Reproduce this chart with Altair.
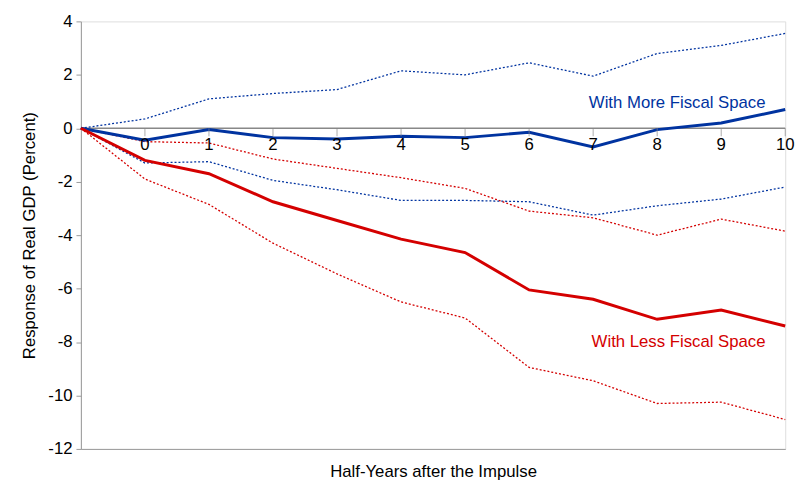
import altair as alt
import pandas as pd

periods = [-1, 0, 1, 2, 3, 4, 5, 6, 7, 8, 9, 10]
more_mid = [0, -0.45, -0.05, -0.35, -0.4, -0.3, -0.35, -0.15, -0.7, -0.05, 0.2, 0.7]
more_hi = [0, 0.35, 1.1, 1.3, 1.45, 2.15, 2.0, 2.45, 1.95, 2.8, 3.1, 3.55]
more_lo = [0, -1.3, -1.25, -1.95, -2.3, -2.7, -2.7, -2.75, -3.25, -2.9, -2.65, -2.2]
less_mid = [0, -1.2, -1.7, -2.75, -3.45, -4.15, -4.65, -6.05, -6.4, -7.15, -6.8, -7.4]
less_hi = [0, -0.5, -0.55, -1.15, -1.5, -1.85, -2.25, -3.1, -3.35, -4.0, -3.4, -3.85]
less_lo = [0, -1.9, -2.85, -4.3, -5.45, -6.5, -7.1, -8.95, -9.45, -10.3, -10.25, -10.9]

rows = []
for name, vals, kind, grp in [
    ("more_mid", more_mid, "solid", "more"), ("more_hi", more_hi, "band", "more"),
    ("more_lo", more_lo, "band", "more"), ("less_mid", less_mid, "solid", "less"),
    ("less_hi", less_hi, "band", "less"), ("less_lo", less_lo, "band", "less")]:
    for p, v in zip(periods, vals):
        rows.append({"t": p, "v": v, "series": name, "kind": kind, "grp": grp})
df = pd.DataFrame(rows)

FONT = "Liberation Sans"
x = alt.X("t:Q", scale=alt.Scale(domain=[-1, 10], nice=False),
          axis=alt.Axis(labels=False, ticks=False, grid=False, domainColor="#999",
                        title="Half-Years after the Impulse", titleFont=FONT,
                        titleFontSize=17, titleFontWeight="normal", titlePadding=15, titleColor="black"))
y = alt.Y("v:Q", scale=alt.Scale(domain=[-12, 4], nice=False),
          axis=alt.Axis(values=list(range(-12, 5, 2)), grid=False, domainColor="#999",
                        tickColor="#999", labelFont=FONT, labelFontSize=17, labelColor="black",
                        labelPadding=4, labelExpr="replace(datum.label, '−', '-')",
                        title="Response of Real GDP (Percent)", titleFont=FONT,
                        titleFontSize=17, titleFontWeight="normal", titleColor="black",
                        titlePadding=10))
color = alt.Color("grp:N", scale=alt.Scale(domain=["more", "less"], range=["#0033a0", "#d40000"]),
                  legend=None)

base = alt.Chart(df)
solid = base.transform_filter("datum.kind == 'solid'").mark_line(strokeWidth=3).encode(
    x=x, y=y, color=color, detail="series:N")
bands = base.transform_filter("datum.kind == 'band'").mark_line(
    strokeWidth=1.3, strokeDash=[2, 2]).encode(x=x, y=y, color=color, detail="series:N")

zero = alt.Chart(pd.DataFrame({"v": [0]})).mark_rule(color="#888", strokeWidth=1.5).encode(y="v:Q")
ticks_df = pd.DataFrame({"t": list(range(0, 11)), "v": [0] * 11})
tick_marks = alt.Chart(ticks_df).mark_tick(color="#888", orient="vertical", size=8, yOffset=4).encode(
    x="t:Q", y="v:Q")
tick_labels = alt.Chart(ticks_df).mark_text(font=FONT, fontSize=17, dy=17, color="black").encode(
    x="t:Q", y="v:Q", text="t:Q")

lab_df = pd.DataFrame({"t": [10, 10], "v": [0.95, -8.0],
                       "txt": ["With More Fiscal Space", "With Less Fiscal Space"],
                       "grp": ["more", "less"]})
labels = alt.Chart(lab_df).mark_text(font=FONT, fontSize=17, align="right", dx=-20).encode(
    x="t:Q", y="v:Q", text="txt:N", color=color)

chart = alt.layer(zero, bands, solid, tick_marks, tick_labels, labels).properties(
    width=715, height=434, padding={"left": 12, "top": 1, "right": 6, "bottom": 0}
).configure_view(stroke="#bbb").configure(background="white")

chart.save("out.html", embed_options={"renderer": "svg", "actions": False})
